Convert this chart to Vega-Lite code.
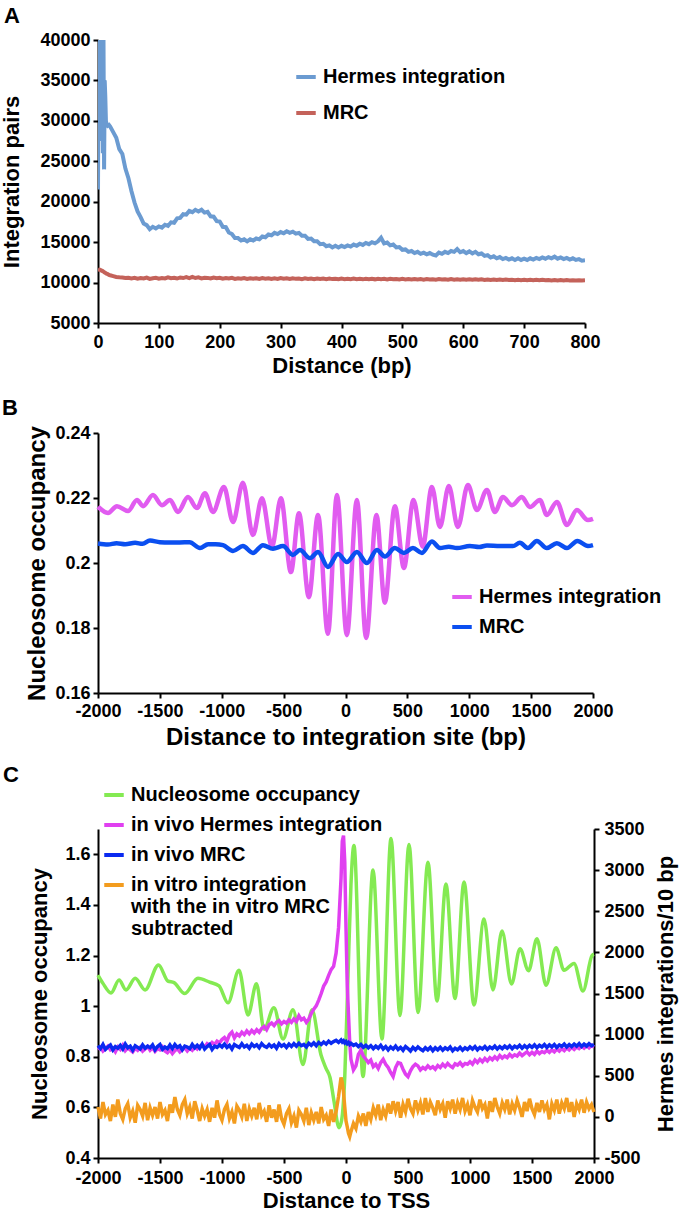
{
"$schema": "https://vega.github.io/schema/vega-lite/v6.json",
"padding": {"left": 0, "top": 5, "right": 5, "bottom": 5},
"background": "white",
"bounds": "flush",
"spacing": 110,
"resolve": {"scale": {"color": "independent"}, "legend": {"color": "independent"}},
"config": {
  "view": {"stroke": null},
  "font": "Liberation Sans",
  "locale": {"number": {"decimal": ".", "thousands": ",", "grouping": [3], "currency": ["$", ""], "minus": "-"}},
  "axis": {"grid": false, "domainColor": "#000", "domainWidth": 2, "tickColor": "#000", "tickWidth": 2, "tickSize": 5,
    "labelFont": "Liberation Sans", "labelFontWeight": "bold", "labelFontSize": 18, "labelColor": "#000",
    "titleFont": "Liberation Sans", "titleFontWeight": "bold", "titleFontSize": 22, "titleColor": "#000",
    "labelFlush": false, "labelOverlap": false, "labelPadding": 4},
  "legend": {"orient": "none", "symbolType": "stroke", "symbolStrokeWidth": 4, "symbolSize": 380,
    "labelFont": "Liberation Sans", "labelFontWeight": "bold", "labelFontSize": 20, "labelColor": "#000",
    "labelLimit": 500, "padding": 0, "rowPadding": 8, "labelOffset": 5},
  "title": {"anchor": "start", "frame": "group", "font": "Liberation Sans", "fontSize": 22, "fontWeight": "bold", "color": "#000"}
},
"datasets": {
"a": [
{"x":0,"h":21500,"m":11700},{"x":1,"h":40500,"m":11650},{"x":2,"h":31000,"m":11600},{"x":3,"h":40500,"m":11600},{"x":4,"h":27500,"m":11550},{"x":5,"h":40500,"m":11500},{"x":6,"h":33000,"m":11450},{"x":7,"h":40500,"m":11450},{"x":8,"h":26000,"m":11400},{"x":9,"h":40500,"m":11350},{"x":10,"h":24000,"m":11300},{"x":11,"h":35000,"m":11250},{"x":12,"h":33000,"m":11200},{"x":13,"h":30000,"m":11150},{"x":14,"h":29600,"m":11100},{"x":16,"h":29400,"m":11050},{"x":18,"h":29500,"m":10950},{"x":20,"h":29300,"m":10900},
{"x":25,"h":28600,"m":10800},{"x":30,"h":27900,"m":10700},{"x":35,"h":26500,"m":10650},{"x":40,"h":25900,"m":10620},{"x":45,"h":24100,"m":10560},{"x":50,"h":22900,"m":10600},{"x":55,"h":21300,"m":10520},{"x":60,"h":19900,"m":10580},{"x":65,"h":18800,"m":10480},{"x":70,"h":18100,"m":10560},{"x":75,"h":17300,"m":10500},{"x":80,"h":17100,"m":10620},{"x":85,"h":16600,"m":10450},{"x":90,"h":16900,"m":10540},{"x":95,"h":16700,"m":10600},{"x":100,"h":16950,"m":10480},
{"x":105,"h":16800,"m":10570},{"x":110,"h":17150,"m":10520},{"x":115,"h":17000,"m":10650},{"x":120,"h":17450,"m":10540},{"x":125,"h":17400,"m":10600},{"x":130,"h":17950,"m":10500},{"x":135,"h":18000,"m":10630},{"x":140,"h":18450,"m":10560},{"x":145,"h":18400,"m":10680},{"x":150,"h":18850,"m":10550},{"x":155,"h":18700,"m":10700},{"x":160,"h":19000,"m":10560},{"x":165,"h":18800,"m":10640},{"x":170,"h":19000,"m":10520},{"x":175,"h":18650,"m":10600},{"x":180,"h":18750,"m":10580},{"x":185,"h":18200,"m":10500},{"x":190,"h":18150,"m":10620},{"x":195,"h":17600,"m":10540},{"x":200,"h":17550,"m":10600},
{"x":205,"h":16900,"m":10480},{"x":210,"h":16850,"m":10560},{"x":215,"h":16200,"m":10500},{"x":220,"h":16000,"m":10580},{"x":225,"h":15500,"m":10460},{"x":230,"h":15500,"m":10540},{"x":235,"h":15200,"m":10480},{"x":240,"h":15350,"m":10560},{"x":245,"h":15100,"m":10450},{"x":250,"h":15350,"m":10520},{"x":255,"h":15200,"m":10470},{"x":260,"h":15450,"m":10540},{"x":265,"h":15350,"m":10450},{"x":270,"h":15700,"m":10550},{"x":275,"h":15600,"m":10480},{"x":280,"h":15950,"m":10530},{"x":285,"h":15850,"m":10440},{"x":290,"h":16150,"m":10520},{"x":295,"h":16000,"m":10460},{"x":300,"h":16250,"m":10560},
{"x":305,"h":16100,"m":10470},{"x":310,"h":16350,"m":10520},{"x":315,"h":16150,"m":10440},{"x":320,"h":16300,"m":10530},{"x":325,"h":16050,"m":10460},{"x":330,"h":16150,"m":10500},{"x":335,"h":15800,"m":10430},{"x":340,"h":15800,"m":10520},{"x":345,"h":15400,"m":10450},{"x":350,"h":15450,"m":10500},{"x":355,"h":15100,"m":10420},{"x":360,"h":15100,"m":10510},{"x":365,"h":14750,"m":10440},{"x":370,"h":14800,"m":10490},{"x":375,"h":14500,"m":10420},{"x":380,"h":14600,"m":10500},{"x":385,"h":14350,"m":10430},{"x":390,"h":14550,"m":10480},{"x":395,"h":14350,"m":10410},{"x":400,"h":14550,"m":10490},
{"x":405,"h":14400,"m":10420},{"x":410,"h":14600,"m":10470},{"x":415,"h":14450,"m":10410},{"x":420,"h":14700,"m":10500},{"x":425,"h":14550,"m":10420},{"x":430,"h":14800,"m":10460},{"x":435,"h":14650,"m":10400},{"x":440,"h":14900,"m":10480},{"x":445,"h":14750,"m":10410},{"x":450,"h":15000,"m":10470},{"x":455,"h":14850,"m":10400},{"x":460,"h":15100,"m":10480},{"x":465,"h":15550,"m":10420},{"x":470,"h":14850,"m":10460},{"x":475,"h":14950,"m":10390},{"x":480,"h":14600,"m":10470},{"x":485,"h":14700,"m":10400},{"x":490,"h":14350,"m":10450},{"x":495,"h":14400,"m":10380},{"x":500,"h":14050,"m":10460},
{"x":505,"h":14100,"m":10390},{"x":510,"h":13800,"m":10440},{"x":515,"h":13900,"m":10370},{"x":520,"h":13650,"m":10450},{"x":525,"h":13800,"m":10380},{"x":530,"h":13550,"m":10430},{"x":535,"h":13700,"m":10360},{"x":540,"h":13500,"m":10440},{"x":545,"h":13650,"m":10370},{"x":550,"h":13450,"m":10420},{"x":555,"h":13350,"m":10360},{"x":560,"h":13700,"m":10430},{"x":565,"h":13550,"m":10380},{"x":570,"h":13800,"m":10420},{"x":575,"h":13650,"m":10350},{"x":580,"h":13900,"m":10430},{"x":585,"h":13800,"m":10360},{"x":590,"h":14150,"m":10410},{"x":595,"h":13750,"m":10350},{"x":600,"h":13900,"m":10420},
{"x":605,"h":13650,"m":10350},{"x":610,"h":13850,"m":10400},{"x":615,"h":13600,"m":10340},{"x":620,"h":13800,"m":10410},{"x":625,"h":13500,"m":10340},{"x":630,"h":13600,"m":10400},{"x":635,"h":13300,"m":10330},{"x":640,"h":13400,"m":10390},{"x":645,"h":13100,"m":10330},{"x":650,"h":13250,"m":10380},{"x":655,"h":13000,"m":10320},{"x":660,"h":13150,"m":10380},{"x":665,"h":12900,"m":10310},{"x":670,"h":13050,"m":10370},{"x":675,"h":12850,"m":10310},{"x":680,"h":13000,"m":10360},{"x":685,"h":12800,"m":10300},{"x":690,"h":13000,"m":10360},{"x":695,"h":12800,"m":10300},{"x":700,"h":12950,"m":10350},
{"x":705,"h":12800,"m":10290},{"x":710,"h":13000,"m":10350},{"x":715,"h":12850,"m":10290},{"x":720,"h":13050,"m":10340},{"x":725,"h":12900,"m":10280},{"x":730,"h":13100,"m":10340},{"x":735,"h":12950,"m":10280},{"x":740,"h":13150,"m":10330},{"x":745,"h":13000,"m":10270},{"x":750,"h":13200,"m":10330},{"x":755,"h":12950,"m":10270},{"x":760,"h":13100,"m":10320},{"x":765,"h":12900,"m":10260},{"x":770,"h":13050,"m":10310},{"x":775,"h":12850,"m":10260},{"x":780,"h":13000,"m":10300},{"x":785,"h":12800,"m":10250},{"x":790,"h":12900,"m":10300},{"x":795,"h":12700,"m":10250},{"x":800,"h":12750,"m":10280}
],
"bh": [
{"x":-2000,"y":0.2173},{"x":-1919,"y":0.2154},{"x":-1847,"y":0.2175},{"x":-1757,"y":0.2160},{"x":-1685,"y":0.2194},{"x":-1636,"y":0.2175},{"x":-1556,"y":0.2209},{"x":-1483,"y":0.2178},{"x":-1418,"y":0.2194},{"x":-1354,"y":0.2157},{"x":-1273,"y":0.2203},{"x":-1200,"y":0.2169},{"x":-1136,"y":0.2215},{"x":-1071,"y":0.2157},{"x":-982,"y":0.2234},{"x":-909,"y":0.2126},{"x":-829,"y":0.2247},{"x":-748,"y":0.2086},{"x":-675,"y":0.2199},{"x":-594,"y":0.2050},{"x":-522,"y":0.2199},{"x":-441,"y":0.1972},{"x":-376,"y":0.2153},{"x":-296,"y":0.1895},{"x":-222,"y":0.2148},{"x":-142,"y":0.1782},{"x":-69,"y":0.2209},{"x":11,"y":0.1778},{"x":92,"y":0.2194},{"x":167,"y":0.1769},{"x":250,"y":0.2148},{"x":318,"y":0.1878},{"x":399,"y":0.2175},{"x":472,"y":0.1985},{"x":549,"y":0.2194},{"x":624,"y":0.2050},{"x":698,"y":0.2234},{"x":763,"y":0.2111},{"x":835,"y":0.2237},{"x":908,"y":0.2111},{"x":989,"y":0.2240},{"x":1062,"y":0.2163},{"x":1143,"y":0.2225},{"x":1207,"y":0.2157},{"x":1272,"y":0.2203},{"x":1345,"y":0.2178},{"x":1425,"y":0.2203},{"x":1490,"y":0.2172},{"x":1571,"y":0.2194},{"x":1627,"y":0.2148},{"x":1708,"y":0.2188},{"x":1789,"y":0.2117},{"x":1870,"y":0.2163},{"x":1959,"y":0.2132},{"x":2000,"y":0.2136}
],
"bm": [
{"x":-2000,"y":0.2060},{"x":-1920,"y":0.2057},{"x":-1850,"y":0.2061},{"x":-1780,"y":0.2058},{"x":-1700,"y":0.2062},{"x":-1640,"y":0.2059},{"x":-1580,"y":0.2069},{"x":-1500,"y":0.2064},{"x":-1420,"y":0.2063},{"x":-1340,"y":0.2063},{"x":-1260,"y":0.2064},{"x":-1176,"y":0.2046},{"x":-1110,"y":0.2058},{"x":-1050,"y":0.2058},{"x":-990,"y":0.2055},{"x":-909,"y":0.2037},{"x":-829,"y":0.2052},{"x":-748,"y":0.2031},{"x":-667,"y":0.2055},{"x":-586,"y":0.2044},{"x":-505,"y":0.2052},{"x":-425,"y":0.2025},{"x":-368,"y":0.2040},{"x":-287,"y":0.2015},{"x":-222,"y":0.2034},{"x":-142,"y":0.1988},{"x":-60,"y":0.2028},{"x":11,"y":0.2003},{"x":92,"y":0.2034},{"x":173,"y":0.2000},{"x":254,"y":0.2040},{"x":318,"y":0.2020},{"x":399,"y":0.2046},{"x":472,"y":0.2031},{"x":545,"y":0.2046},{"x":618,"y":0.2031},{"x":698,"y":0.2066},{"x":763,"y":0.2046},{"x":835,"y":0.2050},{"x":900,"y":0.2046},{"x":1005,"y":0.2052},{"x":1080,"y":0.2049},{"x":1143,"y":0.2054},{"x":1248,"y":0.2052},{"x":1353,"y":0.2052},{"x":1409,"y":0.2062},{"x":1474,"y":0.2046},{"x":1546,"y":0.2068},{"x":1627,"y":0.2046},{"x":1708,"y":0.2061},{"x":1789,"y":0.2046},{"x":1874,"y":0.2068},{"x":1959,"y":0.2052},{"x":2000,"y":0.2055}
],
"cg": [
{"x":-2000,"y":1.123},{"x":-1960,"y":1.09},{"x":-1895,"y":1.052},{"x":-1830,"y":1.103},{"x":-1774,"y":1.064},{"x":-1700,"y":1.11},{"x":-1620,"y":1.064},{"x":-1512,"y":1.163},{"x":-1436,"y":1.099},{"x":-1387,"y":1.093},{"x":-1300,"y":1.05},{"x":-1194,"y":1.11},{"x":-1100,"y":1.095},{"x":-1024,"y":1.08},{"x":-952,"y":1.013},{"x":-863,"y":1.142},{"x":-790,"y":0.965},{"x":-722,"y":1.089},{"x":-661,"y":0.909},{"x":-581,"y":0.994},{"x":-508,"y":0.87},{"x":-427,"y":0.986},{"x":-347,"y":0.769},{"x":-275,"y":0.986},{"x":-202,"y":0.808},{"x":-161,"y":0.754},{"x":-129,"y":0.718},{"x":-97,"y":0.625},{"x":-56,"y":0.52},{"x":-35,"y":0.55},{"x":-10,"y":0.72},{"x":15,"y":1.1},{"x":40,"y":1.48},{"x":64,"y":1.635},{"x":137,"y":0.722},{"x":218,"y":1.538},{"x":290,"y":0.87},{"x":363,"y":1.662},{"x":435,"y":0.963},{"x":508,"y":1.639},{"x":581,"y":0.975},{"x":661,"y":1.569},{"x":734,"y":1.02},{"x":806,"y":1.483},{"x":879,"y":1.03},{"x":952,"y":1.491},{"x":1032,"y":1.005},{"x":1113,"y":1.344},{"x":1185,"y":1.064},{"x":1258,"y":1.297},{"x":1335,"y":1.088},{"x":1403,"y":1.227},{"x":1472,"y":1.14},{"x":1540,"y":1.266},{"x":1613,"y":1.083},{"x":1694,"y":1.231},{"x":1758,"y":1.142},{"x":1839,"y":1.169},{"x":1911,"y":1.06},{"x":1984,"y":1.2},{"x":2000,"y":1.205}
],
"cr": [
{"x":-2000,"m":820,"b":865,"o":120},{"x":-1980,"m":845,"b":830,"o":-20},{"x":-1960,"m":800,"b":880,"o":180},{"x":-1940,"m":830,"b":820,"o":30},{"x":-1920,"m":860,"b":850,"o":80},{"x":-1900,"m":815,"b":875,"o":-50},{"x":-1880,"m":835,"b":815,"o":150},{"x":-1860,"m":790,"b":855,"o":0},{"x":-1840,"m":850,"b":835,"o":210},{"x":-1820,"m":820,"b":870,"o":40},
{"x":-1800,"m":870,"b":825,"o":-30},{"x":-1780,"m":805,"b":885,"o":100},{"x":-1760,"m":840,"b":840,"o":160},{"x":-1740,"m":815,"b":860,"o":-10},{"x":-1720,"m":790,"b":810,"o":70},{"x":-1700,"m":835,"b":865,"o":-70},{"x":-1680,"m":810,"b":845,"o":140},{"x":-1660,"m":845,"b":825,"o":90},{"x":-1640,"m":800,"b":875,"o":10},{"x":-1620,"m":825,"b":835,"o":170},
{"x":-1600,"m":855,"b":860,"o":-40},{"x":-1580,"m":810,"b":840,"o":110},{"x":-1560,"m":840,"b":875,"o":20},{"x":-1540,"m":795,"b":815,"o":120},{"x":-1520,"m":830,"b":855,"o":-20},{"x":-1500,"m":815,"b":880,"o":180},{"x":-1480,"m":850,"b":820,"o":30},{"x":-1460,"m":800,"b":850,"o":80},{"x":-1440,"m":780,"b":830,"o":-50},{"x":-1420,"m":815,"b":875,"o":150},
{"x":-1400,"m":770,"b":830,"o":50},{"x":-1380,"m":805,"b":880,"o":240},{"x":-1360,"m":830,"b":845,"o":90},{"x":-1340,"m":790,"b":865,"o":20},{"x":-1320,"m":820,"b":815,"o":150},{"x":-1300,"m":840,"b":860,"o":210},{"x":-1280,"m":800,"b":850,"o":40},{"x":-1260,"m":835,"b":830,"o":120},{"x":-1240,"m":810,"b":880,"o":-20},{"x":-1220,"m":850,"b":840,"o":190},
{"x":-1200,"m":825,"b":870,"o":80},{"x":-1180,"m":860,"b":835,"o":-50},{"x":-1160,"m":875,"b":885,"o":100},{"x":-1140,"m":850,"b":825,"o":10},{"x":-1120,"m":890,"b":855,"o":90},{"x":-1100,"m":870,"b":880,"o":-60},{"x":-1080,"m":905,"b":820,"o":110},{"x":-1060,"m":880,"b":860,"o":-10},{"x":-1040,"m":920,"b":845,"o":200},{"x":-1020,"m":900,"b":875,"o":30},
{"x":-1000,"m":940,"b":850,"o":-40},{"x":-980,"m":965,"b":885,"o":90},{"x":-960,"m":920,"b":845,"o":150},{"x":-940,"m":1000,"b":870,"o":-20},{"x":-920,"m":1030,"b":825,"o":60},{"x":-900,"m":960,"b":880,"o":-80},{"x":-880,"m":1010,"b":860,"o":130},{"x":-860,"m":985,"b":845,"o":80},{"x":-840,"m":1030,"b":890,"o":0},{"x":-820,"m":1000,"b":850,"o":160},
{"x":-800,"m":1045,"b":870,"o":-50},{"x":-780,"m":1010,"b":835,"o":100},{"x":-760,"m":1050,"b":885,"o":10},{"x":-740,"m":1020,"b":855,"o":110},{"x":-720,"m":1060,"b":875,"o":-30},{"x":-700,"m":1030,"b":840,"o":170},{"x":-680,"m":1075,"b":890,"o":20},{"x":-660,"m":1100,"b":860,"o":70},{"x":-640,"m":1060,"b":845,"o":-60},{"x":-620,"m":1120,"b":880,"o":140},
{"x":-600,"m":1140,"b":850,"o":-10},{"x":-580,"m":1110,"b":875,"o":90},{"x":-560,"m":1150,"b":835,"o":-60},{"x":-540,"m":1170,"b":890,"o":150},{"x":-520,"m":1130,"b":860,"o":-20},{"x":-500,"m":1160,"b":880,"o":-90},{"x":-480,"m":1140,"b":845,"o":40},{"x":-460,"m":1180,"b":885,"o":100},{"x":-440,"m":1150,"b":855,"o":-70},{"x":-420,"m":1190,"b":890,"o":10},
{"x":-400,"m":1160,"b":860,"o":-130},{"x":-380,"m":1230,"b":895,"o":80},{"x":-360,"m":1180,"b":865,"o":30},{"x":-340,"m":1200,"b":880,"o":-50},{"x":-320,"m":1150,"b":850,"o":110},{"x":-300,"m":1190,"b":895,"o":-100},{"x":-280,"m":1260,"b":870,"o":50},{"x":-260,"m":1310,"b":900,"o":-40},{"x":-240,"m":1350,"b":865,"o":60},{"x":-220,"m":1420,"b":905,"o":-80},
{"x":-200,"m":1500,"b":880,"o":120},{"x":-180,"m":1590,"b":910,"o":-30},{"x":-160,"m":1640,"b":885,"o":20},{"x":-140,"m":1720,"b":920,"o":-110},{"x":-120,"m":1790,"b":895,"o":90},{"x":-100,"m":1830,"b":915,"o":-60},{"x":-80,"m":1990,"b":930,"o":60},{"x":-60,"m":2300,"b":905,"o":250},{"x":-40,"m":2900,"b":935,"o":480},{"x":-30,"m":3350,"b":910,"o":420},
{"x":-20,"m":3420,"b":925,"o":300},{"x":-10,"m":3100,"b":900,"o":120},{"x":0,"m":2300,"b":915,"o":-50},{"x":10,"m":1600,"b":890,"o":-120},{"x":20,"m":1250,"b":905,"o":-200},{"x":30,"m":900,"b":880,"o":-240},{"x":40,"m":700,"b":895,"o":-180},{"x":60,"m":570,"b":870,"o":-80},{"x":80,"m":620,"b":885,"o":-140},{"x":100,"m":760,"b":855,"o":10},
{"x":120,"m":810,"b":880,"o":-60},{"x":140,"m":740,"b":845,"o":40},{"x":160,"m":700,"b":870,"o":-110},{"x":180,"m":660,"b":840,"o":60},{"x":200,"m":690,"b":865,"o":-30},{"x":220,"m":610,"b":830,"o":110},{"x":240,"m":640,"b":860,"o":20},{"x":260,"m":590,"b":835,"o":150},{"x":280,"m":660,"b":870,"o":-40},{"x":300,"m":700,"b":825,"o":90},
{"x":320,"m":640,"b":855,"o":10},{"x":340,"m":600,"b":815,"o":160},{"x":360,"m":540,"b":850,"o":40},{"x":380,"m":490,"b":825,"o":190},{"x":400,"m":600,"b":860,"o":70},{"x":420,"m":660,"b":820,"o":180},{"x":440,"m":650,"b":845,"o":-10},{"x":460,"m":580,"b":810,"o":150},{"x":480,"m":520,"b":855,"o":60},{"x":500,"m":490,"b":830,"o":220},
{"x":520,"m":560,"b":800,"o":100},{"x":540,"m":610,"b":845,"o":40},{"x":560,"m":640,"b":815,"o":200},{"x":580,"m":620,"b":850,"o":80},{"x":600,"m":570,"b":825,"o":170},{"x":620,"m":600,"b":805,"o":30},{"x":640,"m":580,"b":840,"o":230},{"x":660,"m":620,"b":815,"o":60},{"x":680,"m":590,"b":845,"o":180},{"x":700,"m":610,"b":805,"o":110},
{"x":720,"m":580,"b":840,"o":20},{"x":740,"m":625,"b":815,"o":200},{"x":760,"m":600,"b":845,"o":90},{"x":780,"m":640,"b":810,"o":160},{"x":800,"m":610,"b":840,"o":-10},{"x":820,"m":650,"b":820,"o":190},{"x":840,"m":620,"b":850,"o":100},{"x":860,"m":600,"b":805,"o":210},{"x":880,"m":645,"b":835,"o":40},{"x":900,"m":630,"b":815,"o":170},
{"x":920,"m":660,"b":845,"o":90},{"x":940,"m":620,"b":810,"o":230},{"x":960,"m":650,"b":840,"o":70},{"x":980,"m":640,"b":820,"o":150},{"x":1000,"m":670,"b":850,"o":20},{"x":1020,"m":640,"b":825,"o":200},{"x":1040,"m":690,"b":855,"o":120},{"x":1060,"m":660,"b":815,"o":60},{"x":1080,"m":700,"b":845,"o":210},{"x":1100,"m":670,"b":825,"o":100},
{"x":1120,"m":710,"b":855,"o":150},{"x":1140,"m":680,"b":820,"o":-20},{"x":1160,"m":720,"b":850,"o":190},{"x":1180,"m":695,"b":830,"o":60},{"x":1200,"m":730,"b":860,"o":230},{"x":1220,"m":700,"b":825,"o":120},{"x":1240,"m":745,"b":855,"o":40},{"x":1260,"m":715,"b":830,"o":170},{"x":1280,"m":740,"b":860,"o":90},{"x":1300,"m":720,"b":835,"o":210},
{"x":1320,"m":760,"b":865,"o":30},{"x":1340,"m":730,"b":830,"o":160},{"x":1360,"m":755,"b":860,"o":80},{"x":1380,"m":740,"b":840,"o":200},{"x":1400,"m":775,"b":870,"o":110},{"x":1420,"m":745,"b":835,"o":0},{"x":1440,"m":770,"b":865,"o":180},{"x":1460,"m":790,"b":840,"o":70},{"x":1480,"m":755,"b":870,"o":220},{"x":1500,"m":785,"b":845,"o":100},
{"x":1520,"m":760,"b":875,"o":30},{"x":1540,"m":800,"b":840,"o":170},{"x":1560,"m":770,"b":870,"o":60},{"x":1580,"m":795,"b":850,"o":200},{"x":1600,"m":780,"b":880,"o":90},{"x":1620,"m":810,"b":845,"o":150},{"x":1640,"m":785,"b":875,"o":-30},{"x":1660,"m":815,"b":850,"o":160},{"x":1680,"m":790,"b":880,"o":80},{"x":1700,"m":825,"b":845,"o":210},
{"x":1720,"m":800,"b":875,"o":40},{"x":1740,"m":830,"b":855,"o":170},{"x":1760,"m":805,"b":885,"o":100},{"x":1780,"m":840,"b":850,"o":230},{"x":1800,"m":815,"b":880,"o":60},{"x":1820,"m":845,"b":855,"o":180},{"x":1840,"m":820,"b":885,"o":0},{"x":1860,"m":850,"b":860,"o":160},{"x":1880,"m":830,"b":890,"o":90},{"x":1900,"m":860,"b":855,"o":210},
{"x":1920,"m":835,"b":885,"o":50},{"x":1940,"m":865,"b":860,"o":180},{"x":1960,"m":840,"b":890,"o":100},{"x":1980,"m":870,"b":865,"o":150},{"x":2000,"m":850,"b":880,"o":60}
]
},
"vconcat": [
{
  "width": 487, "height": 283,
  "title": {"text": "A", "dx": -94, "offset": 3},
  "data": {"name": "a"},
  "encoding": {
    "x": {"field": "x", "type": "quantitative", "title": "Distance (bp)",
      "scale": {"domain": [0, 800], "nice": false},
      "axis": {"values": [0,100,200,300,400,500,600,700,800], "format": "d", "titlePadding": 4, "labelPadding": 5}}
  },
  "layer": [
    {"mark": {"type": "line", "strokeWidth": 4, "clip": true},
     "encoding": {
       "y": {"field": "h", "type": "quantitative", "title": "Integration pairs",
         "scale": {"domain": [5000, 40000], "nice": false},
         "axis": {"values": [5000,10000,15000,20000,25000,30000,35000,40000], "format": "d", "titlePadding": 16, "labelPadding": 3}},
       "color": {"datum": "Hermes integration",
         "scale": {"domain": ["Hermes integration", "MRC"], "range": ["#6b9bd1", "#c4625a"]},
         "legend": {"title": null, "legendX": 196, "legendY": 25, "rowPadding": 14}}
     }},
    {"mark": {"type": "line", "strokeWidth": 4, "clip": true},
     "encoding": {
       "y": {"field": "m", "type": "quantitative", "title": "Integration pairs"},
       "color": {"datum": "MRC", "scale": {"domain": ["Hermes integration", "MRC"], "range": ["#6b9bd1", "#c4625a"]}}
     }}
  ]
},
{
  "width": 495, "height": 260,
  "title": {"text": "B", "dx": -96, "offset": 4},
  "encoding": {
    "x": {"field": "x", "type": "quantitative", "title": "Distance to integration site (bp)",
      "scale": {"domain": [-2000, 2000], "nice": false},
      "axis": {"values": [-2000,-1500,-1000,-500,0,500,1000,1500,2000], "format": "d", "titlePadding": 5, "labelPadding": 4, "titleFontSize": 24}},
    "y": {"field": "y", "type": "quantitative", "title": "Nucleosome occupancy",
      "scale": {"domain": [0.16, 0.24], "nice": false},
      "axis": {"values": [0.16,0.18,0.2,0.22,0.24], "format": "~g", "titlePadding": 5, "labelPadding": 3, "titleFontSize": 24}}
  },
  "layer": [
    {"data": {"name": "bh"}, "mark": {"type": "line", "interpolate": "monotone", "strokeWidth": 4.5},
     "encoding": {
       "color": {"datum": "Hermes integration",
         "scale": {"domain": ["Hermes integration", "MRC"], "range": ["#e15cf0", "#0b4ff0"]},
         "legend": {"title": null, "legendX": 352, "legendY": 152, "rowPadding": 8}}
     }},
    {"data": {"name": "bm"}, "mark": {"type": "line", "interpolate": "monotone", "strokeWidth": 4.5},
     "encoding": {
       "color": {"datum": "MRC", "scale": {"domain": ["Hermes integration", "MRC"], "range": ["#e15cf0", "#0b4ff0"]}}
     }}
  ]
},
{
  "width": 496, "height": 355,
  "title": {"text": "C", "dx": -95, "offset": 0, "dy": 4},
  "encoding": {
    "x": {"field": "x", "type": "quantitative", "title": "Distance to TSS",
      "scale": {"domain": [-2000, 2000], "nice": false},
      "axis": {"values": [-2000,-1500,-1000,-500,0,500,1000,1500,2000], "format": "d", "titlePadding": 3, "labelPadding": 6}}
  },
  "resolve": {"scale": {"y": "independent"}},
  "layer": [
    {"data": {"name": "cg"}, "mark": {"type": "line", "interpolate": "monotone", "strokeWidth": 3.5},
     "encoding": {
       "y": {"field": "y", "type": "quantitative", "title": "Nucleosome occupancy",
         "scale": {"domain": [0.4, 1.7], "range": [355, 26], "nice": false},
         "axis": {"values": [0.4,0.6,0.8,1,1.2,1.4,1.6], "format": "~g", "titlePadding": 13, "labelPadding": 3}},
       "color": {"datum": "Nucleosome occupancy",
         "scale": {"domain": ["Nucleosome occupancy", "in vivo Hermes integration", "in vivo MRC", "in vitro integration with the in vitro MRC subtracted"], "range": ["#84ea52", "#e03ff0", "#0a2af0", "#f39c1e"]},
         "legend": {"title": null, "legendX": 4, "legendY": -20, "rowPadding": 8,
           "labelExpr": "datum.label == 'in vitro integration with the in vitro MRC subtracted' ? ['in vitro integration', 'with the in vitro MRC', 'subtracted'] : datum.label"}}
     }},
    {"data": {"name": "cr"},
     "layer": [
       {"mark": {"type": "line", "strokeWidth": 3.5},
        "encoding": {
          "y": {"field": "o", "type": "quantitative", "title": "Hermes integrations/10 bp",
            "scale": {"domain": [-500, 3500], "range": [355, 26], "nice": false},
            "axis": {"orient": "right", "values": [-500,0,500,1000,1500,2000,2500,3000,3500], "format": "d", "titlePadding": 11, "labelPadding": 5, "titleAngle": 270, "titleBaseline": "top"}},
          "color": {"datum": "in vitro integration with the in vitro MRC subtracted",
            "scale": {"domain": ["Nucleosome occupancy", "in vivo Hermes integration", "in vivo MRC", "in vitro integration with the in vitro MRC subtracted"], "range": ["#84ea52", "#e03ff0", "#0a2af0", "#f39c1e"]}}
        }},
       {"mark": {"type": "line", "strokeWidth": 3.5},
        "encoding": {
          "y": {"field": "m", "type": "quantitative", "title": "Hermes integrations/10 bp"},
          "color": {"datum": "in vivo Hermes integration",
            "scale": {"domain": ["Nucleosome occupancy", "in vivo Hermes integration", "in vivo MRC", "in vitro integration with the in vitro MRC subtracted"], "range": ["#84ea52", "#e03ff0", "#0a2af0", "#f39c1e"]}}
        }},
       {"mark": {"type": "line", "strokeWidth": 3.5},
        "encoding": {
          "y": {"field": "b", "type": "quantitative", "title": "Hermes integrations/10 bp"},
          "color": {"datum": "in vivo MRC",
            "scale": {"domain": ["Nucleosome occupancy", "in vivo Hermes integration", "in vivo MRC", "in vitro integration with the in vitro MRC subtracted"], "range": ["#84ea52", "#e03ff0", "#0a2af0", "#f39c1e"]}}
        }}
     ]}
  ]
}
]
}
